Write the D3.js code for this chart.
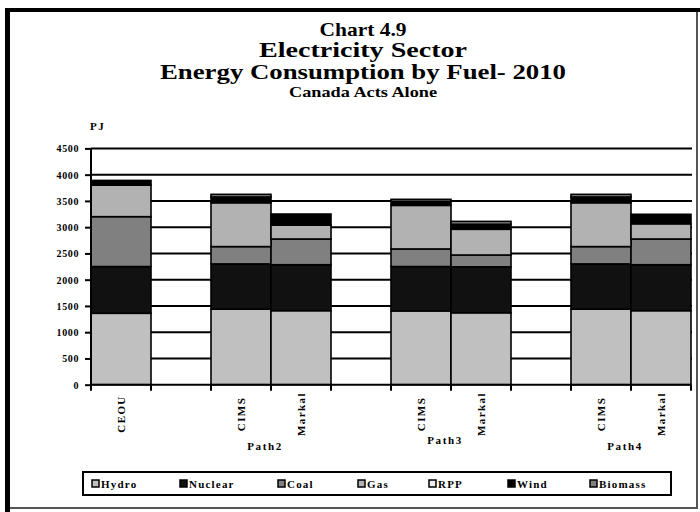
<!DOCTYPE html>
<html>
<head>
<meta charset="utf-8">
<script src="https://cdn.jsdelivr.net/npm/d3@7"></script>
<style>
  html, body { margin: 0; padding: 0; background: #fff; }
  svg { display: block; }
  text { font-family: "Liberation Serif", "Times New Roman", serif; font-weight: bold; fill: #000; }
</style>
</head>
<body>
<svg id="chart" width="700" height="512"></svg>
<script>
// Category slots along the x axis (blank slots separate the scenario groups)
const categories = ["CEOU", "", "CIMS", "Markal", "", "CIMS", "Markal", "", "CIMS", "Markal"];
// Scenario group of each slot
const groups = ["", "", "Path2", "Path2", "", "Path3", "Path3", "", "Path4", "Path4"];

// Fuel series, PJ, one value per slot (null = empty slot)
const hydro   = [1360, null, 1440, 1410, null, 1405, 1370, null, 1440, 1410];
const nuclear = [ 890, null,  860,  875, null,  845,  875, null,  860,  875];
const coal    = [ 950, null,  330,  490, null,  335,  225, null,  330,  490];
const gas     = [ 600, null,  835,  265, null,  830,  490, null,  835,  290];
const rpp     = [   0, null,    0,    0, null,    0,    0, null,    0,    0];
const wind    = [  90, null,  110,  210, null,   75,   95, null,  110,  180];
const biomass = [   0, null,   50,    0, null,   40,   55, null,   50,    0];

const seriesNames = ["Hydro", "Nuclear", "Coal", "Gas", "RPP", "Wind", "Biomass"];
const seriesValues = [hydro, nuclear, coal, gas, rpp, wind, biomass];
const yTicks = [0, 500, 1000, 1500, 2000, 2500, 3000, 3500, 4000, 4500];

const fills = ["#c0c0c0", "#111111", "#808080", "#b2b2b2", "#eeeeee", "#000000", "#808080"];

const svg = d3.select("#chart");

// Outer frame
svg.append("rect").attr("x", 5).attr("y", 8).attr("width", 695).attr("height", 4).attr("fill", "#000");
svg.append("rect").attr("x", 5).attr("y", 8).attr("width", 5).attr("height", 504).attr("fill", "#000");
svg.append("rect").attr("x", 696).attr("y", 12).attr("width", 2).attr("height", 497).attr("fill", "#555");
svg.append("rect").attr("x", 10).attr("y", 507).attr("width", 688).attr("height", 2).attr("fill", "#555");

// Titles
const cx = 363;
const titles = [
  { t: "Chart 4.9", y: 36, s: 19.5, w: 87 },
  { t: "Electricity Sector", y: 57, s: 20.5, w: 208 },
  { t: "Energy Consumption by Fuel- 2010", y: 79, s: 21.5, w: 406 },
  { t: "Canada Acts Alone", y: 97, s: 14, w: 148 }
];
titles.forEach(d => {
  svg.append("text").attr("x", cx).attr("y", d.y).attr("text-anchor", "middle")
    .attr("font-size", d.s).attr("textLength", d.w).attr("lengthAdjust", "spacingAndGlyphs")
    .text(d.t);
});
svg.append("text").attr("x", 90).attr("y", 130).attr("font-size", 11)
  .attr("letter-spacing", 1.5).text("PJ");

// Scales
const x = d3.scaleBand().domain(d3.range(categories.length)).range([91, 691]).padding(0);
const y = d3.scaleLinear().domain([0, 4500]).range([384.7, 148.4]);

// Gridlines
svg.append("g").selectAll("line").data(yTicks.filter(v => v > 0)).join("line")
  .attr("x1", 91).attr("x2", 692).attr("y1", d => y(d)).attr("y2", d => y(d))
  .attr("stroke", "#000").attr("stroke-width", 2);

// Stacked bars
const rows = categories.map((c, i) => {
  const r = { i };
  seriesNames.forEach((n, k) => r[n] = seriesValues[k][i] == null ? 0 : seriesValues[k][i]);
  return r;
});
const stack = d3.stack().keys(seriesNames)(rows);
stack.forEach((layer, k) => {
  svg.append("g").selectAll("rect")
    .data(layer.filter(d => d[1] - d[0] > 0))
    .join("rect")
    .attr("x", d => x(d.data.i))
    .attr("width", x.bandwidth())
    .attr("y", d => y(d[1]))
    .attr("height", d => y(d[0]) - y(d[1]))
    .attr("fill", fills[k])
    .attr("stroke", "#000").attr("stroke-width", 1.6);
});

// Y axis
const yAxis = d3.axisLeft(y).tickValues(yTicks).tickFormat(d3.format("d")).tickSize(6).tickPadding(6);
const gy = svg.append("g").attr("transform", "translate(91,0)").call(yAxis);
gy.select(".domain").attr("stroke-width", 2).attr("d", `M0,${y(4500)}V${y(0)}`);
gy.selectAll(".tick line").attr("stroke-width", 2);
gy.selectAll(".tick text").attr("font-size", 10).attr("font-family", "Liberation Serif")
  .attr("font-weight", "bold").attr("letter-spacing", 0.6).attr("dy", "0.35em");

// X axis with ticks on every slot boundary
const xa = svg.append("g");
xa.append("line").attr("x1", 91).attr("x2", 691).attr("y1", y(0)).attr("y2", y(0))
  .attr("stroke", "#000").attr("stroke-width", 2);
const bounds = d3.range(categories.length + 1).map(i => i < categories.length ? x(i) : x(i - 1) + x.bandwidth());
xa.selectAll("line.tk").data(bounds).join("line").attr("class", "tk")
  .attr("x1", d => d).attr("x2", d => d).attr("y1", y(0)).attr("y2", y(0) + 6)
  .attr("stroke", "#000").attr("stroke-width", 2);

xa.selectAll("text.cat").data(categories.map((c, i) => ({ c, i })).filter(d => d.c))
  .join("text").attr("class", "cat")
  .attr("transform", d => `translate(${x(d.i) + x.bandwidth() / 2 + 4},414) rotate(-90)`)
  .attr("text-anchor", "middle").attr("font-size", 11).attr("letter-spacing", 1.4)
  .text(d => d.c);

// Group labels centred under each scenario pair
const groupNames = Array.from(new Set(groups.filter(g => g)));
groupNames.forEach(g => {
  const idx = groups.map((v, i) => v === g ? i : -1).filter(i => i >= 0);
  const gx = (x(idx[0]) + x(idx[idx.length - 1]) + x.bandwidth()) / 2 - 6;
  svg.append("text").attr("x", gx).attr("y", g === "Path3" ? 444 : 450)
    .attr("text-anchor", "middle").attr("font-size", 11).attr("letter-spacing", 1.6).text(g);
});

// Legend
svg.append("rect").attr("x", 83).attr("y", 472).attr("width", 588).attr("height", 23)
  .attr("fill", "#fff").attr("stroke", "#000").attr("stroke-width", 2);
const legendX = [92, 180, 278, 358, 429, 508, 590];
seriesNames.forEach((n, k) => {
  const g = svg.append("g").attr("transform", `translate(${legendX[k]},480)`);
  g.append("rect").attr("width", 7).attr("height", 7).attr("fill", fills[k])
    .attr("stroke", "#000").attr("stroke-width", 1.5);
  g.append("text").attr("x", 9).attr("y", 7.5).attr("font-size", 11)
    .attr("letter-spacing", 1.2).text(n);
});
</script>
</body>
</html>
